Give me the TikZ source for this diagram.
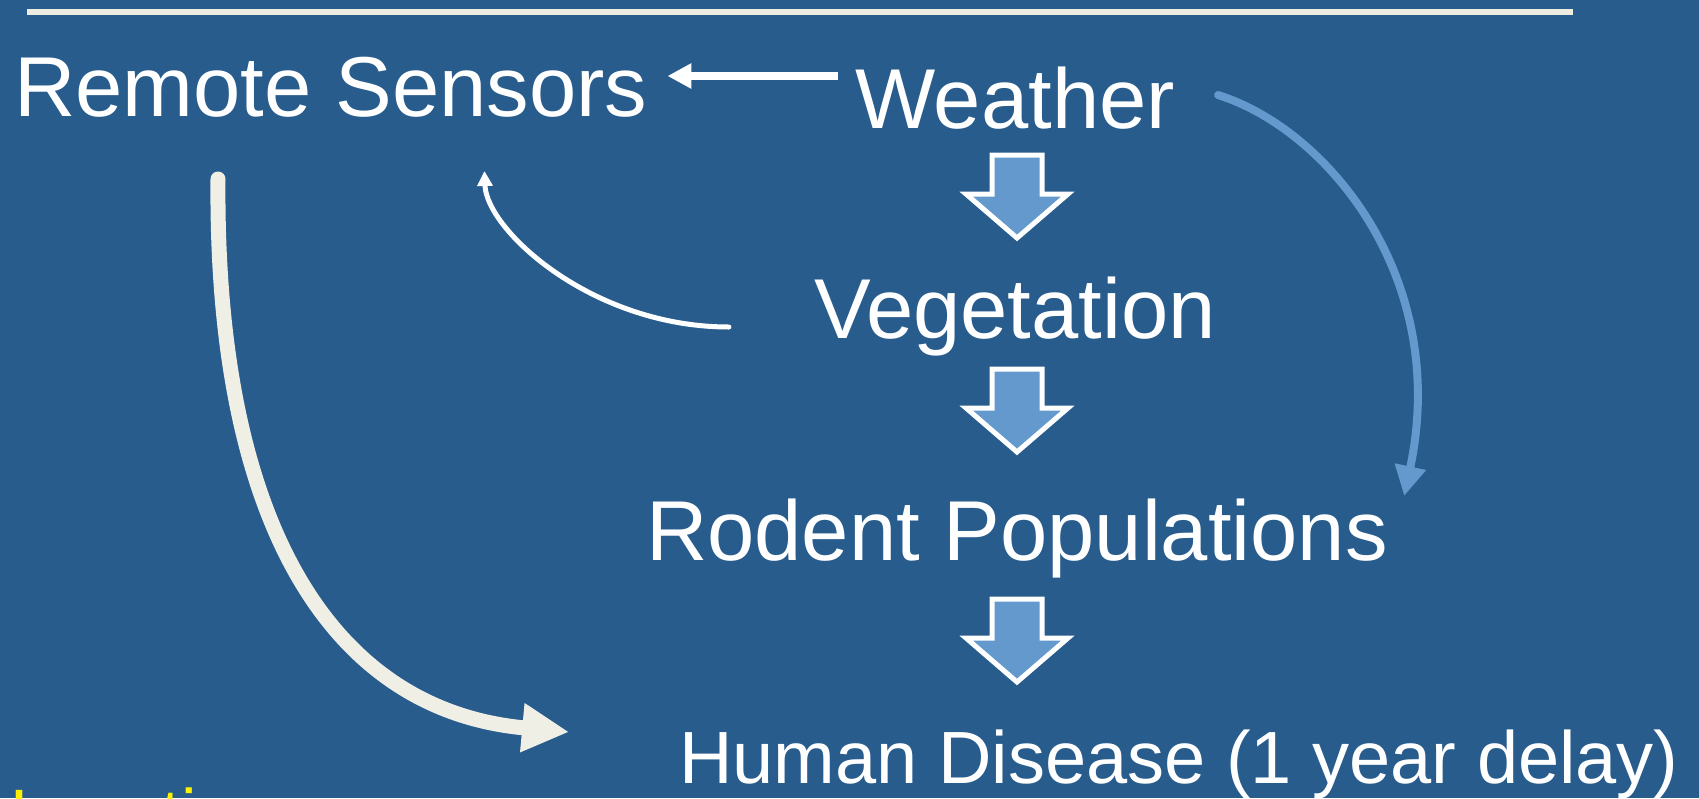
\documentclass[tikz,border=0pt]{standalone}
\usepackage{fontspec}
\setmainfont{Liberation Sans}
\usetikzlibrary{arrows.meta}
\definecolor{slideblue}{RGB}{39,92,141}
\definecolor{paleblue}{RGB}{99,153,204}
\definecolor{cream}{RGB}{240,239,230}
\definecolor{rulecream}{RGB}{236,236,224}
\newcommand{\slidefont}{\fontsize{85}{100}\selectfont}
\newcommand{\smallslidefont}{\fontsize{74}{88}\selectfont}
\newcommand{\notefont}{\fontsize{70}{84}\selectfont}

\begin{document}
\begin{tikzpicture}[x=1pt,y=-1pt,
  box/.style={text=white,font=\slidefont,inner sep=0pt,anchor=base},
  flow/.style={line width=5pt,draw=white,fill=paleblue,line join=miter}]
% Slide background
\useasboundingbox (0,0) rectangle (1699,798);
\fill[slideblue] (0,0) rectangle (1699,798);
\clip (0,0) rectangle (1699,798);

% Title rule
\draw[rulecream,line width=6pt] (27,12) -- (1573,12);

% Labels
\node[box,anchor=base west] (sensors) at (14,116) {Remote Sensors};
\node[box] (weather) at (1015,128) {Weather};
\node[box] (veg) at (1015,338) {Vegetation};
\node[box] (rodent) at (1017,560) {Rodent Populations};
\node[box,font=\smallslidefont] (disease) at (1179,783) {Human Disease (1 year delay)};
\node[box,anchor=base west,text=yellow,font=\notefont] (note) at (10,838) {Location};

% Block arrows down the chain
\foreach \t in {152,366,596}
  \draw[flow] (992,\t+3) -- (1042,\t+3) -- (1042,\t+42) -- (1068,\t+42)
    -- (1017,\t+86) -- (966,\t+42) -- (992,\t+42) -- cycle;

% Weather -> Remote Sensors
\draw[white,line width=8pt,-{Triangle[length=24pt,width=24pt]}]
  ([shift={(-17,-52)}]weather.base west) -- ([shift={(20,-40)}]sensors.base east);

% Vegetation -> Remote Sensors
\draw[white,line width=5pt,line cap=round,-{Triangle[length=15pt,width=15pt]}]
  ([shift={(-85,-11)}]veg.base west) .. controls +(-137,0) and +(2,59) .. ([shift={(-163,55)}]sensors.base east);

% Remote Sensors -> Human Disease
\draw[cream,line width=15pt,line cap=round,-{Triangle[length=47pt,width=46pt]}]
  ([shift={(204,63)}]sensors.base west) .. controls +(-3,341) and +(-240,-22) .. ([shift={(-110,-51)}]disease.base west);

% Weather -> Rodent Populations
\draw[paleblue,line width=8pt,line cap=round,-{Triangle[length=30pt,width=30pt]}]
  ([shift={(43,-33)}]weather.base east) .. controls +(111,35) and +(46,-216) .. ([shift={(16,-64)}]rodent.base east);
\end{tikzpicture}
\end{document}
